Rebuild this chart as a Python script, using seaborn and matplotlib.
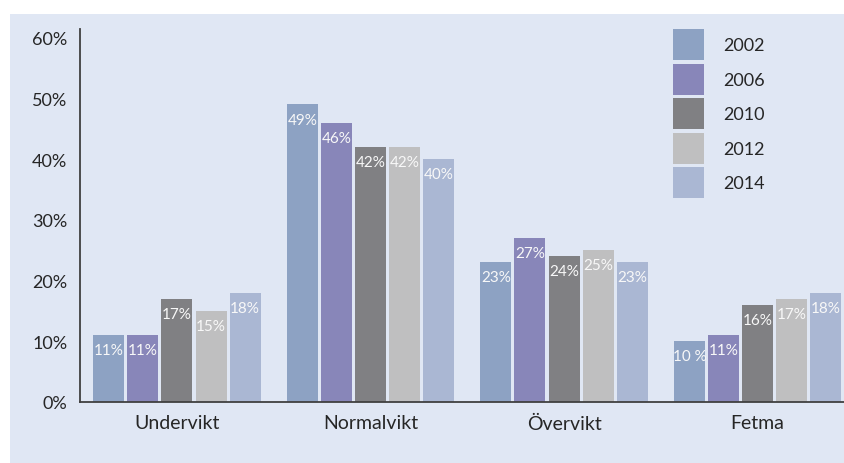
import matplotlib
matplotlib.use("Agg")
import matplotlib.pyplot as plt
from matplotlib.patches import Rectangle, Patch
import seaborn as sns
import pandas as pd

categories = ["Undervikt", "Normalvikt", "Övervikt", "Fetma"]
years = ["2002", "2006", "2010", "2012", "2014"]
v2002 = [11, 49, 23, 10]
v2006 = [11, 46, 27, 11]
v2010 = [17, 42, 24, 16]
v2012 = [15, 42, 25, 17]
v2014 = [18, 40, 23, 18]
bar_labels = {
    "2002": ["11%", "49%", "23%", "10 %"],
    "2006": ["11%", "46%", "27%", "11%"],
    "2010": ["17%", "42%", "24%", "16%"],
    "2012": ["15%", "42%", "25%", "17%"],
    "2014": ["18%", "40%", "23%", "18%"],
}
yticks = [0, 10, 20, 30, 40, 50, 60]
ytick_labels = ["0%", "10%", "20%", "30%", "40%", "50%", "60%"]
colors = ["#8DA2C3", "#8886B9", "#808083", "#BFBFC0", "#AAB7D3"]

series = dict(zip(years, [v2002, v2006, v2010, v2012, v2014]))
rows = []
for y in years:
    for c, v in zip(categories, series[y]):
        rows.append({"Kategori": c, "År": y, "Andel": v})
df = pd.DataFrame(rows)

sns.set_theme(style="white")
plt.rcParams["font.family"] = ["Lato", "DejaVu Sans"]

fig = plt.figure(figsize=(8.45, 4.64), dpi=100)
fig.patch.set_facecolor("white")
bg = Rectangle((10 / 845, -0.01), 1.0, (464 - 15) / 464 + 0.01,
               transform=fig.transFigure, facecolor="#E0E7F4",
               edgecolor="none", zorder=-10)
fig.patches.append(bg)

ax = fig.add_axes([80 / 845, (464 - 403) / 464, (845 - 80) / 845, (403 - 30) / 464])
ax.set_facecolor("none")
ax.set_zorder(1)

sns.barplot(data=df, x="Kategori", y="Andel", hue="År", hue_order=years,
            order=categories, palette=colors, width=0.88, gap=0.09,
            saturation=1, linewidth=0, edgecolor="none", ax=ax, legend=False)

for cont, y in zip(ax.containers, years):
    ax.bar_label(cont, labels=bar_labels[y], padding=-16, color="#F8F8F8",
                 fontsize=11)

ax.set_ylim(0, 61.4)
ax.set_xlim(-0.501, 3.452)
ax.set_yticks(yticks)
ax.set_yticklabels(ytick_labels, fontsize=13)
ax.tick_params(axis="y", length=0, pad=9)
ax.tick_params(axis="x", length=0, pad=9, labelsize=14)
ax.set_xlabel("")
ax.set_ylabel("")
for s in ["top", "right"]:
    ax.spines[s].set_visible(False)
for s in ["left", "bottom"]:
    ax.spines[s].set_color("#404040")
    ax.spines[s].set_linewidth(1.3)

handles = [Patch(facecolor=c, edgecolor="none", linewidth=0) for c in colors]
ax.legend(handles, years, loc="upper left",
          bbox_to_anchor=(673 / 845, 1 - 30 / 464), bbox_transform=fig.transFigure,
          frameon=False, fontsize=13, handlelength=1.72, handleheight=2.26,
          labelspacing=0.2, handletextpad=1.05, borderpad=0, borderaxespad=0)

fig.savefig("out.png", dpi=100, facecolor=fig.get_facecolor())
